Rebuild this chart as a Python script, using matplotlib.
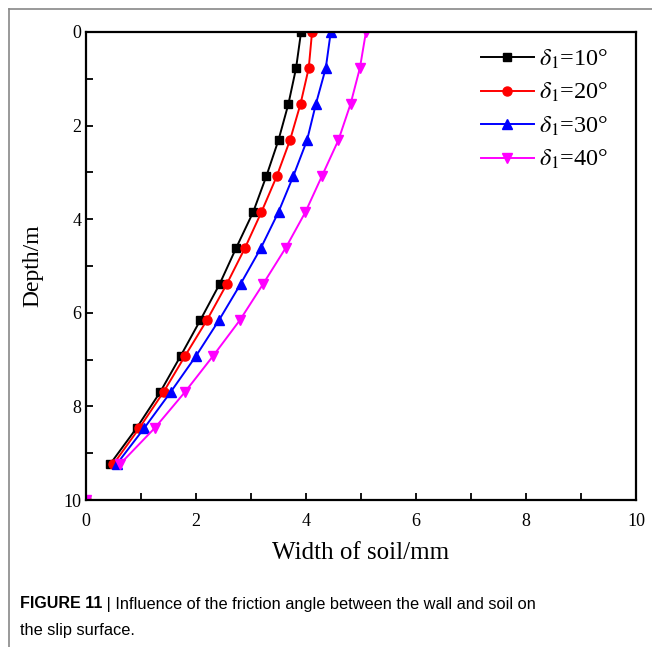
import matplotlib
matplotlib.use("Agg")
import matplotlib.pyplot as plt
from matplotlib.lines import Line2D
from matplotlib.ticker import MultipleLocator

plt.rcParams['font.family'] = ['Liberation Serif', 'DejaVu Serif']
plt.rcParams['mathtext.fontset'] = 'stix'

depth = [0, 0.769, 1.538, 2.308, 3.077, 3.846, 4.615, 5.385, 6.154, 6.923, 7.692, 8.462, 9.231]
w10 = [3.91, 3.82, 3.68, 3.50, 3.28, 3.04, 2.73, 2.43, 2.08, 1.72, 1.35, 0.92, 0.44]
w20 = [4.11, 4.05, 3.90, 3.71, 3.47, 3.19, 2.89, 2.56, 2.20, 1.80, 1.41, 0.97, 0.50]
w30 = [4.45, 4.36, 4.18, 4.02, 3.77, 3.50, 3.18, 2.81, 2.42, 2.00, 1.54, 1.06, 0.56]
w40 = [5.09, 4.98, 4.81, 4.59, 4.29, 3.99, 3.63, 3.22, 2.80, 2.31, 1.80, 1.25, 0.62]
end_depth = 10
end_width = 0

series = [
    (w10, 'black', 's', 6.0, r'$\delta_1$=10°'),
    (w20, 'red', 'o', 6.5, r'$\delta_1$=20°'),
    (w30, 'blue', '^', 7.5, r'$\delta_1$=30°'),
    (w40, 'magenta', 'v', 7.5, r'$\delta_1$=40°'),
]

W, H = 652, 647
fig = plt.figure(figsize=(W / 100, H / 100), dpi=100)
ax = fig.add_axes([86 / W, 1 - 500 / H, 550 / W, 468 / H])

for w, c, m, ms, lab in series:
    ax.plot(w, depth, color=c, marker=m, markersize=ms, linewidth=1.4, label=lab)
    ax.plot([end_width], [end_depth], color=c, marker=m, markersize=ms, linestyle='none')

ax.set_xlim(0, 10)
ax.set_ylim(10, 0)
ax.xaxis.set_major_locator(MultipleLocator(2))
ax.xaxis.set_minor_locator(MultipleLocator(1))
ax.yaxis.set_major_locator(MultipleLocator(2))
ax.yaxis.set_minor_locator(MultipleLocator(1))
ax.tick_params(which='both', direction='in', width=1.3, labelsize=13)
ax.tick_params(which='major', length=5)
ax.tick_params(which='minor', length=5)
ax.tick_params(axis='x', pad=9)
for s in ax.spines.values():
    s.set_linewidth(1.6)

ax.set_xlabel('Width of soil/mm', fontsize=18, labelpad=9)
ax.set_ylabel('Depth/m', fontsize=17, labelpad=14)

leg = ax.legend(loc='upper right', frameon=False, fontsize=17.5, handlelength=2.2,
                labelspacing=0.42, handletextpad=0.2, borderaxespad=0.2,
                bbox_to_anchor=(0.976, 0.998))

# figure frame lines
fig.add_artist(Line2D([9 / W, 1], [1 - 9 / H, 1 - 9 / H], transform=fig.transFigure,
                      color='#888888', linewidth=1.2))
fig.add_artist(Line2D([9 / W, 9 / W], [0, 1 - 9 / H], transform=fig.transFigure,
                      color='#888888', linewidth=1.2))

cap_font = ['Liberation Sans', 'DejaVu Sans']
t1 = fig.text(20 / W, 1 - 604 / H, 'FIGURE 11', fontsize=11.5, fontweight='bold',
              family=cap_font, va='center', ha='left')
fig.canvas.draw()
bb = t1.get_window_extent()
x_next = bb.x1 / W
fig.text(x_next, 1 - 604 / H, ' | Influence of the friction angle between the wall and soil on',
         fontsize=11.8, family=cap_font, va='center', ha='left')
fig.text(20 / W, 1 - 630 / H, 'the slip surface.', fontsize=11.8, family=cap_font,
         va='center', ha='left')

fig.savefig('out.png', dpi=100)
